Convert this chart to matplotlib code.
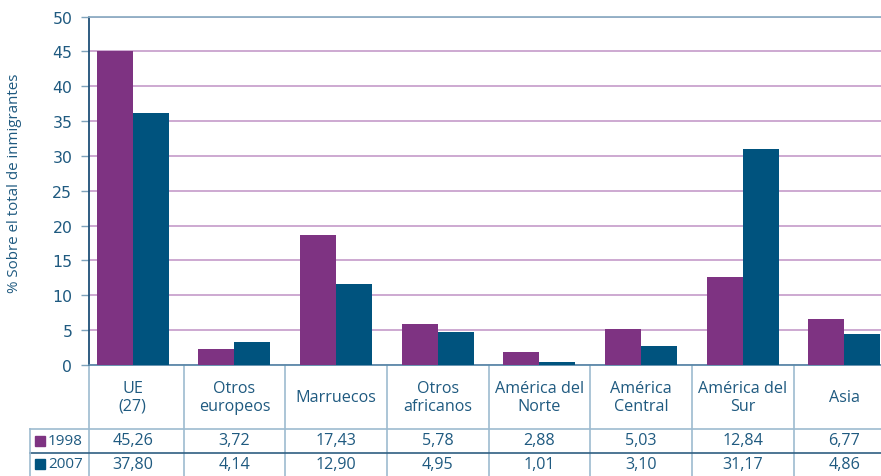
import matplotlib
matplotlib.use("Agg")
import matplotlib.pyplot as plt
import matplotlib.transforms as mtransforms
from matplotlib.patches import Rectangle
import numpy as np

categories = ["UE\n(27)", "Otros\neuropeos", "Marruecos", "Otros\nafricanos",
              "América del\nNorte", "América\nCentral", "América del\nSur", "Asia"]
bars_1998 = [45.0, 2.3, 18.6, 5.9, 1.9, 5.2, 12.6, 6.6]
bars_2007 = [36.2, 3.3, 11.6, 4.7, 0.45, 2.7, 31.0, 4.45]
table_1998 = ["45,26", "3,72", "17,43", "5,78", "2,88", "5,03", "12,84", "6,77"]
table_2007 = ["37,80", "4,14", "12,90", "4,95", "1,01", "3,10", "31,17", "4,86"]
series_labels = ["1998", "2007"]
yticks = [0, 5, 10, 15, 20, 25, 30, 35, 40, 45, 50]

c98 = "#7E3382"
c07 = "#00537E"
txt = "#1F5A80"
grid_c = "#C9A2CE"
line_c = "#9DBBD0"

W, H = 881, 477
fig = plt.figure(figsize=(W / 100, H / 100), dpi=100)
ax = fig.add_axes([89 / W, 1 - 366 / H, (W - 89) / W, (366 - 17.5) / H])

x = np.arange(len(categories))
bw = 0.355
ax.bar(x - bw / 2, bars_1998, bw, color=c98, zorder=3)
ax.bar(x + bw / 2, bars_2007, bw, color=c07, zorder=3)

ax.set_xlim(-0.43, 7.36)
ax.set_ylim(0, 50)
ax.set_yticks(yticks)
ax.set_xticks([])
ax.yaxis.grid(True, color=grid_c, lw=1.3, zorder=0)
ax.set_axisbelow(True)
ax.tick_params(axis="y", direction="out", length=6, width=1, color="#7FA3BC",
               labelsize=11.3, labelcolor=txt, pad=6)
for lab in ax.get_yticklabels():
    lab.set_fontfamily(["DejaVu Sans"])
ax.spines["left"].set_color("#1F4F77")
ax.spines["left"].set_linewidth(1.3)
ax.spines["top"].set_color("#8EAEC4")
ax.spines["top"].set_linewidth(1.3)
ax.spines["bottom"].set_color("#5C8AAA")
ax.spines["bottom"].set_linewidth(1.3)
ax.spines["right"].set_visible(False)

fig.text(15 / W, 1 - 183 / H, "% Sobre el total de inmigrantes", rotation=90,
         ha="center", va="center", color=txt, fontsize=10.9,
         family=["Open Sans", "DejaVu Sans"])

# table
trans = mtransforms.blended_transform_factory(ax.transData, fig.transFigure)
fy = lambda py: 1 - py / H
xl, xr = ax.get_xlim()
bounds = [xl] + [i + 0.5 for i in range(len(categories) - 1)] + [xr]
tfont = ["Open Sans", "DejaVu Sans"]

for b in bounds[:-1]:
    ax.plot([b, b], [fy(366), fy(477)], transform=trans, color=line_c, lw=1.2,
            clip_on=False, zorder=1)
fig.add_artist(plt.Line2D([30 / W, 1], [fy(430), fy(430)], color=line_c, lw=1.2))
fig.add_artist(plt.Line2D([30 / W, 1], [fy(453.5), fy(453.5)], color="#2F5F82", lw=1.2))
fig.add_artist(plt.Line2D([30 / W, 30 / W], [fy(430), fy(477)], color=line_c, lw=1.2))

for i, cat in enumerate(categories):
    ax.text(i, fy(398), cat, transform=trans, ha="center", va="center",
            color=txt, fontsize=11.6, family=tfont, linespacing=1.15)
    ax.text(i, fy(441.5), table_1998[i], transform=trans, ha="center",
            va="center", color=txt, fontsize=11.6, family=tfont)
    ax.text(i, fy(465), table_2007[i], transform=trans, ha="center",
            va="center", color=txt, fontsize=11.6, family=tfont)

for lab, col, py in [(series_labels[0], c98, 441.5), (series_labels[1], c07, 465)]:
    fig.add_artist(Rectangle((35 / W, fy(py + 5)), 10 / W, 10 / H, color=col,
                             transform=fig.transFigure))
    fig.text(48 / W, fy(py), lab, ha="left", va="center", color=txt,
             fontsize=11, family=tfont)

fig.savefig("out.png", dpi=100)
